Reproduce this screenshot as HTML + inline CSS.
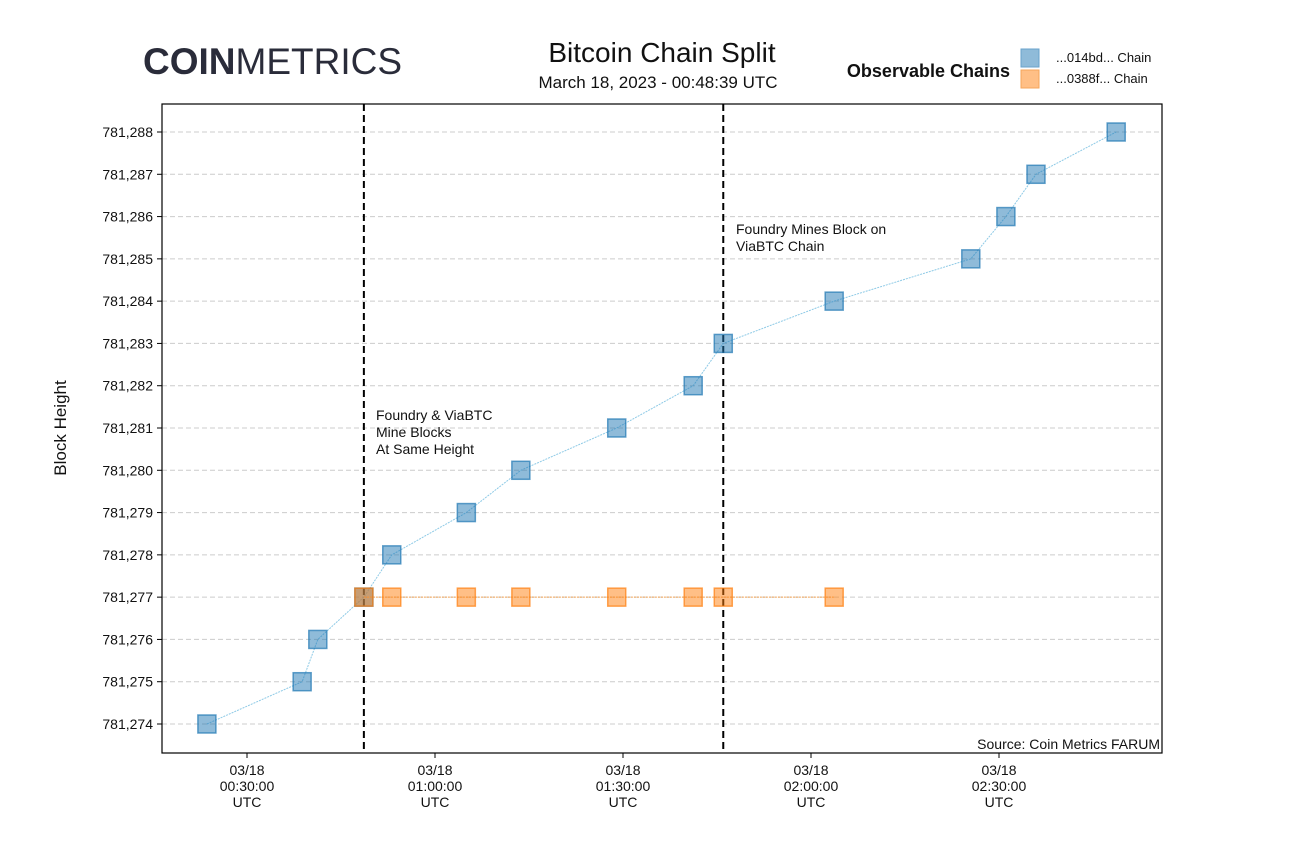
<!DOCTYPE html>
<html><head><meta charset="utf-8"><style>
body{margin:0;background:#fff;}
svg{display:block;font-family:"Liberation Sans",sans-serif;}
</style></head><body>
<svg id="chart" width="1292" height="861" viewBox="0 0 1292 861">
<text x="143" y="74" font-size="37" fill="#2a2c3a"><tspan font-weight="bold">COIN</tspan><tspan font-weight="normal">METRICS</tspan></text>
<text x="662" y="62" font-size="28" text-anchor="middle" fill="#111">Bitcoin Chain Split</text>
<text x="658" y="88" font-size="17" text-anchor="middle" fill="#111">March 18, 2023 - 00:48:39 UTC</text>
<text x="1010" y="77" font-size="18" font-weight="bold" text-anchor="end" fill="#111">Observable Chains</text>
<rect x="1021" y="49" width="18" height="18" fill="#8fbbd9" stroke="#6aa3cc"/>
<text x="1056" y="62" font-size="13" fill="#111">...014bd... Chain</text>
<rect x="1021" y="70" width="18" height="18" fill="#ffbf86" stroke="#f5a65b"/>
<text x="1056" y="83" font-size="13" fill="#111">...0388f... Chain</text>
<g id="grid"></g><g id="marks"></g><g id="axes"></g>
<text transform="translate(66,428) rotate(-90)" font-size="17" text-anchor="middle" fill="#111">Block Height</text>
<text x="1160" y="749" font-size="14" text-anchor="end" fill="#111">Source: Coin Metrics FARUM</text>
<text x="376" y="420" font-size="14" fill="#111"><tspan x="376">Foundry &amp; ViaBTC</tspan><tspan x="376" dy="17">Mine Blocks</tspan><tspan x="376" dy="17">At Same Height</tspan></text>
<text x="736" y="234" font-size="14" fill="#111"><tspan x="736">Foundry Mines Block on</tspan><tspan x="736" dy="17">ViaBTC Chain</tspan></text>
</svg>
<script>
// minutes after 00:00 UTC
const blueTimes=[23.6,38.8,41.3,48.65,53.1,65.0,73.7,89.0,101.2,106.0,123.7,145.5,151.1,155.9,168.7];
const blueHeights=[781274,781275,781276,781277,781278,781279,781280,781281,781282,781283,781284,781285,781286,781287,781288];
const orangeTimes=[48.65,53.1,65.0,73.7,89.0,101.2,106.0,123.7];
const orangeHeights=[781277,781277,781277,781277,781277,781277,781277,781277];
const eventTimes=[48.65,106.0];
const xTickMinutes=[30,60,90,120,150];
const xTickLabels=["00:30:00","01:00:00","01:30:00","02:00:00","02:30:00"];
const yTicks=[781274,781275,781276,781277,781278,781279,781280,781281,781282,781283,781284,781285,781286,781287,781288];

const L=162,R=1162,T=104,B=753;
const x=m=>247+(m-30)*(188/30);
const y=v=>724-(v-781274)*(592/14);
const NS="http://www.w3.org/2000/svg";
function mk(tag,attrs,parent){const e=document.createElementNS(NS,tag);for(const k in attrs)e.setAttribute(k,attrs[k]);parent.appendChild(e);return e;}
const grid=document.getElementById('grid'),marks=document.getElementById('marks'),axes=document.getElementById('axes');

yTicks.forEach(v=>{
  const g=mk('line',{x1:L,x2:R,y1:y(v),y2:y(v),stroke:'#ccc','stroke-dasharray':'5,3','stroke-width':1},grid);
  
  
  const t=mk('line',{x1:L-5,x2:L,y1:y(v),y2:y(v),stroke:'#000'},axes);
  
  
  const l=mk('text',{x:L-9,y:y(v)+5,'font-size':14,'text-anchor':'end',fill:'#111'},axes);
  l.textContent=v.toLocaleString('en-US');
  
  
});
xTickMinutes.forEach((m,i)=>{
  const t=mk('line',{x1:x(m),x2:x(m),y1:B,y2:B+5,stroke:'#000'},axes);
  
  
  const l=mk('text',{x:x(m),y:B+22,'font-size':14,'text-anchor':'middle',fill:'#111'},axes);
  
  
  ['03/18',xTickLabels[i],'UTC'].forEach((s,j)=>{const ts=mk('tspan',{x:x(m),dy:j?16:0},l);ts.textContent=s;});
});
const frame=mk('rect',{x:L,y:T,width:R-L,height:B-T,fill:'none',stroke:'#000','stroke-width':1.2},axes);



eventTimes.forEach(m=>{
  const v=mk('line',{x1:x(m),x2:x(m),y1:T,y2:B,stroke:'#000','stroke-width':2,'stroke-dasharray':'7,4'},marks);
  
  
});
function series(times,hs,fill,stroke,lineColor,name){
  const p=mk('polyline',{points:times.map((m,i)=>x(m)+','+y(hs[i])).join(' '),fill:'none',stroke:lineColor,'stroke-width':1,'stroke-dasharray':'2,1'},marks);
  
  
  times.forEach((m,i)=>{
    const r=mk('rect',{x:x(m)-9,y:y(hs[i])-9,width:18,height:18,fill:fill,'fill-opacity':0.5,stroke:stroke,'stroke-opacity':0.7,'stroke-width':1.5},marks);
    
    
  });
}
series(blueTimes,blueHeights,'#1f77b4','#1f77b4','#8ecae6','chain-014bd');
series(orangeTimes,orangeHeights,'#ff7f0e','#ff7f0e','#f0a050','chain-0388f');
</script>
</body></html>
